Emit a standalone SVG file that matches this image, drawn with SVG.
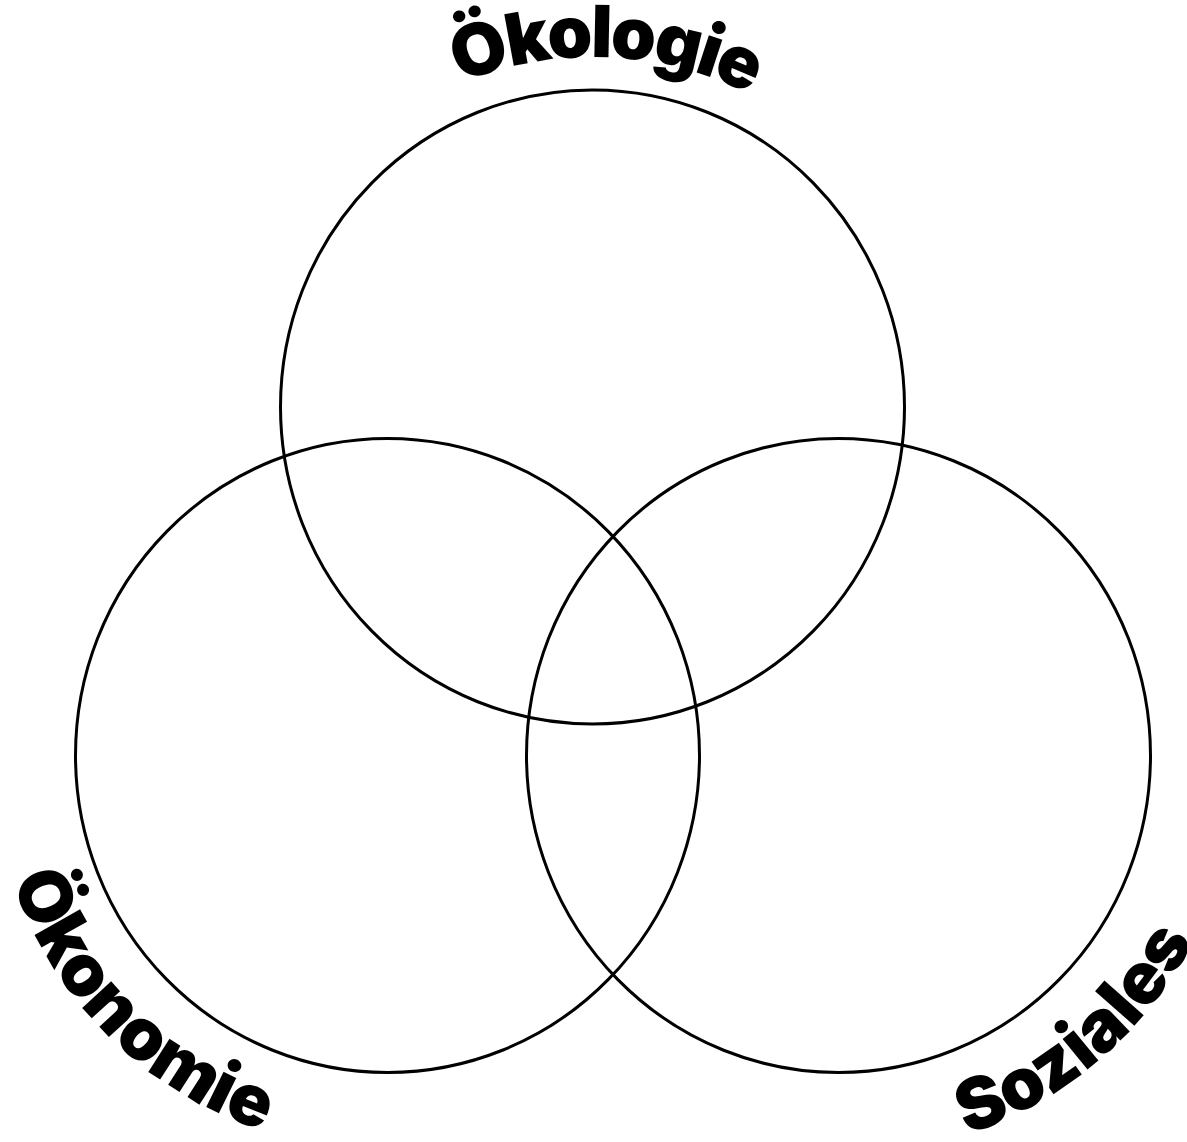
<svg xmlns="http://www.w3.org/2000/svg" width="1187" height="1142" viewBox="0 0 1187 1142">
<style>
.ring{fill:none;stroke:#000;stroke-width:3}
.lbl{font-family:Inter,Lato,"DejaVu Sans",sans-serif;font-weight:900;font-size:72px;fill:#000}
</style>
<defs>
<path id="pTop" d="M 296.2 221.5 A 350 350 0 0 1 902.0 242.7"/>
<path id="pLeft" d="M 5.5 653.8 A 395 395 0 0 0 489.2 1137.5"/>
<path id="pRight" d="M 706.1 1133.3 A 400 400 0 0 0 1232.2 682.4"/>
</defs>
<rect width="1187" height="1142" fill="#fff"/>
<g id="oekologie">
<ellipse class="ring" cx="592.5" cy="407" rx="312" ry="317"/>
<text class="lbl" letter-spacing="-3"><textPath href="#pTop" startOffset="50%" text-anchor="middle">Ökologie</textPath></text>
</g>
<g id="oekonomie">
<ellipse class="ring" cx="387.5" cy="755.5" rx="312" ry="317"/>
<text class="lbl"><textPath href="#pLeft" startOffset="50%" text-anchor="middle">Ökonomie</textPath></text>
</g>
<g id="soziales">
<ellipse class="ring" cx="838.5" cy="755.5" rx="312" ry="317"/>
<text class="lbl"><textPath href="#pRight" startOffset="50%" text-anchor="middle">Soziales</textPath></text>
</g>
<g id="connectors"/>
</svg>
